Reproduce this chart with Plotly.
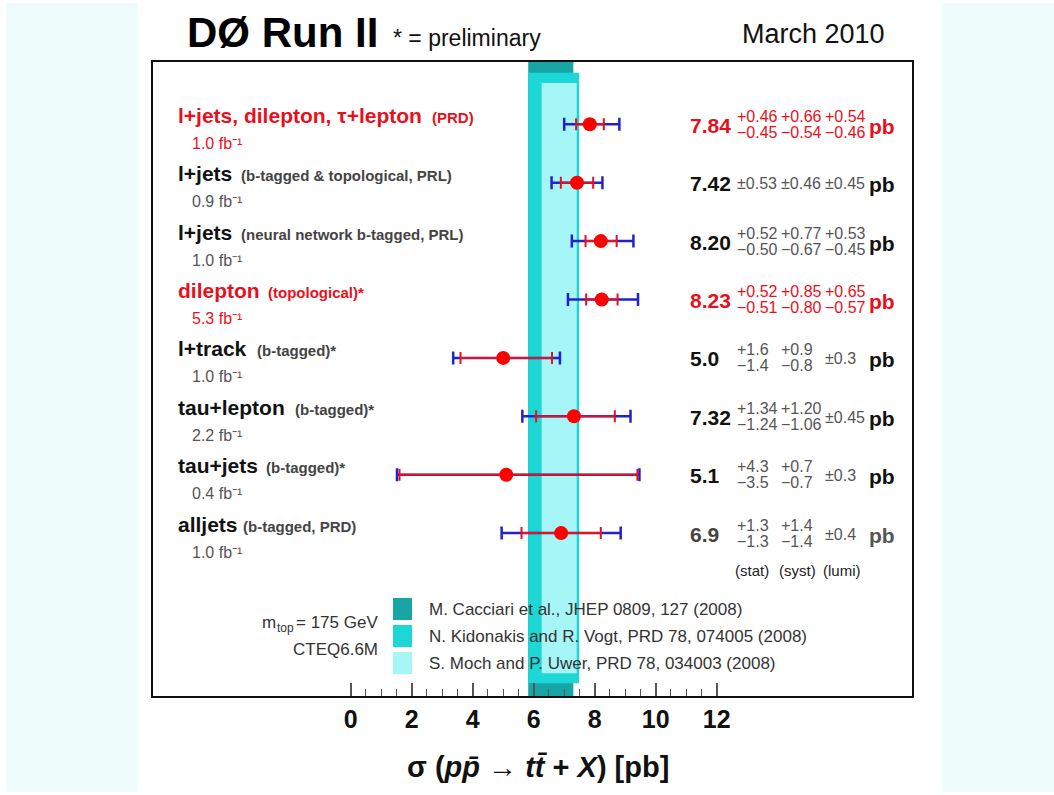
import math
import plotly.graph_objects as go

# ---- measurements -------------------------------------------------------
channels = ["l+jets, dilepton, τ+lepton", "l+jets", "l+jets", "dilepton",
            "l+track", "tau+lepton", "tau+jets", "alljets"]
details = ["(PRD)", "(b-tagged & topological, PRL)", "(neural network b-tagged, PRL)",
           "(topological)*", "(b-tagged)*", "(b-tagged)*", "(b-tagged)*", "(b-tagged, PRD)"]
lumi_fb = ["1.0", "0.9", "1.0", "5.3", "1.0", "2.2", "0.4", "1.0"]

xsec = [7.84, 7.42, 8.20, 8.23, 5.0, 7.32, 5.1, 6.9]
decimals = [2, 2, 2, 2, 1, 2, 1, 1]
stat_up = [0.46, 0.53, 0.52, 0.52, 1.6, 1.34, 4.3, 1.3]
stat_dn = [0.45, 0.53, 0.50, 0.51, 1.4, 1.24, 3.5, 1.3]
syst_up = [0.66, 0.46, 0.77, 0.85, 0.9, 1.20, 0.7, 1.4]
syst_dn = [0.54, 0.46, 0.67, 0.80, 0.8, 1.06, 0.7, 1.4]
lumi_up = [0.54, 0.45, 0.53, 0.65, 0.3, 0.45, 0.3, 0.4]
lumi_dn = [0.46, 0.45, 0.45, 0.57, 0.3, 0.45, 0.3, 0.4]
# how the uncertainties are printed: three stacked columns, one inline row,
# or stacked stat/syst with a symmetric lumi term
unc_style = ["stack3", "inline", "stack3", "stack3", "stack2", "stack2", "stack2", "stack2"]
highlight = [True, False, False, True, False, False, False, False]

# ---- theory predictions (m_top = 175 GeV, CTEQ6.6M) ---------------------
theory_names = ["M. Cacciari et al., JHEP 0809, 127 (2008)",
                "N. Kidonakis and R. Vogt, PRD 78, 074005 (2008)",
                "S. Moch and P. Uwer, PRD 78, 034003 (2008)"]
theory_lo = [5.82, 5.82, 6.26]
theory_hi = [7.30, 7.49, 7.41]
theory_colors = ["#17a5a5", "#1dd6d6", "#a6f5f7"]
theory_yspan = [(0.0, 1.0), (0.02, 0.983), (0.036, 0.967)]

tick_vals = [0, 2, 4, 6, 8, 10, 12]
minor_vals = [v / 2 for v in range(1, 24) if v % 4 != 0]

RED = "#e8101c"
BLUE = "#2222cc"
FONT = "Liberation Sans, Arial, sans-serif"

# ---- page geometry (pixels) ---------------------------------------------
W, H = 1054, 795
PL, PR, PT, PB = 153, 912, 62, 696
label_x = 176
detail_x = [430, 239, 239, 266, 255, 293, 264, 241]


def pxx(x):
    return (x - PL) / (PR - PL)


def pxy(y):
    return (PB - y) / (PB - PT)


rows = list(range(len(xsec)))
tot_up = [math.sqrt(a * a + b * b + c * c) for a, b, c in zip(stat_up, syst_up, lumi_up)]
tot_dn = [math.sqrt(a * a + b * b + c * c) for a, b, c in zip(stat_dn, syst_dn, lumi_dn)]

fig = go.Figure()

# total uncertainty (blue), drawn first so the statistical part sits on top
fig.add_trace(go.Scatter(
    x=xsec, y=rows, mode="markers",
    marker=dict(size=2, color="rgba(0,0,0,0)"),
    error_x=dict(type="data", symmetric=False, array=tot_up, arrayminus=tot_dn,
                 color=BLUE, thickness=2.5, width=6.5),
    hoverinfo="skip"))

# statistical uncertainty (red) with the central value
fig.add_trace(go.Scatter(
    x=xsec, y=rows, mode="markers",
    marker=dict(size=14, color="#ff0000"),
    error_x=dict(type="data", symmetric=False, array=stat_up, arrayminus=stat_dn,
                 color=RED, thickness=2, width=6),
    hoverinfo="skip"))

shapes = []
# pale side strips of the page
shapes.append(dict(type="rect", xref="paper", yref="paper", layer="below",
                   x0=pxx(6), x1=pxx(138), y0=pxy(792), y1=pxy(3),
                   fillcolor="#effcfc", line_width=0))
shapes.append(dict(type="rect", xref="paper", yref="paper", layer="below",
                   x0=pxx(942), x1=pxx(1054), y0=pxy(792), y1=pxy(3),
                   fillcolor="#effcfc", line_width=0))

# theory bands
for lo, hi, col, (y0, y1) in zip(theory_lo, theory_hi, theory_colors, theory_yspan):
    shapes.append(dict(type="rect", xref="x", yref="paper", layer="below",
                       x0=lo, x1=hi, y0=y0, y1=y1, fillcolor=col, line_width=0))

# legend squares
legend_y = [609, 636, 663]
for yc, col in zip(legend_y, theory_colors):
    shapes.append(dict(type="rect", xref="paper", yref="paper", layer="above",
                       x0=pxx(393), x1=pxx(412), y0=pxy(yc + 11), y1=pxy(yc - 11),
                       fillcolor=col, line_width=0))

ann = []


def text_px(x, y, s, size, color="#111", xanchor="left", bold=False):
    if bold:
        s = "<b>" + s + "</b>"
    ann.append(dict(xref="paper", yref="paper", x=pxx(x), y=pxy(y), text=s,
                    showarrow=False, xanchor=xanchor, yanchor="middle",
                    font=dict(family=FONT, size=size, color=color)))


def text_row(x, row, shift, s, size, color="#111", xanchor="left"):
    ann.append(dict(xref="paper", yref="y", x=pxx(x), y=row, yshift=shift, text=s,
                    showarrow=False, xanchor=xanchor, yanchor="middle",
                    font=dict(family=FONT, size=size, color=color)))


# header
text_px(185, 32, "DØ Run II", 42, "#000", bold=True)
text_px(391, 38, "* = preliminary", 23, "#111")
text_px(740, 34, "March 2010", 27, "#111")

# channel labels
for i in rows:
    main_c = RED if highlight[i] else "#111"
    det_c = RED if highlight[i] else "#444"
    sub_c = RED if highlight[i] else "#555"
    text_row(label_x, i, 9, f"<b>{channels[i]}</b>", 21, main_c)
    text_row(detail_x[i], i, 7, f"<b>{details[i]}</b>", 15, det_c)
    text_row(190, i, -19, f"{lumi_fb[i]} fb⁻¹", 16, sub_c)

# printed results
cols_x = [735, 779, 823]
for i in rows:
    d = decimals[i]
    val_c = RED if highlight[i] else ("#444" if i == 7 else "#111")
    pb_c = RED if highlight[i] else ("#555" if i == 7 else "#111")
    unc_c = RED if highlight[i] else "#555"
    text_row(688, i, -1, f"<b>{xsec[i]:.{d}f}</b>", 21, val_c)
    text_row(867, i, -2, "<b>pb</b>", 21, pb_c)
    ups = [stat_up[i], syst_up[i], lumi_up[i]]
    dns = [stat_dn[i], syst_dn[i], lumi_dn[i]]
    for k, cx in enumerate(cols_x):
        stacked = unc_style[i] == "stack3" or (unc_style[i] == "stack2" and k < 2)
        if stacked:
            text_row(cx, i, 8, f"+{ups[k]:.{d}f}", 16, unc_c)
            text_row(cx, i, -8, f"−{dns[k]:.{d}f}", 16, unc_c)
        else:
            text_row(cx, i, -1, f"±{ups[k]:.{d}f}", 16, unc_c)

for cx, s in zip(cols_x, ["(stat)", "(syst)", "(lumi)"]):
    text_px(cx - 2, 570, s, 15, "#222")

# legend text
for yc, name in zip(legend_y, theory_names):
    text_px(427, yc, name, 17, "#333")
text_px(380, 622, "= 175 GeV", 17, "#333", xanchor="right")
text_px(296, 628, "top", 12, "#333", xanchor="right")
text_px(278, 622, "m", 17, "#333", xanchor="right")
text_px(380, 649, "CTEQ6.6M", 17, "#333", xanchor="right")

# axis title
text_px(538, 767,
        "σ (<i>p</i><i>p\u0304</i> → <i>t</i><i>t\u0304</i> + <i>X</i>) [pb]",
        29, "#111", xanchor="center", bold=True)

x_lo = (PL - 350.7) / 30.5
x_hi = (PR - 350.7) / 30.5
y_top = (PT - 124.3) / 58.4
y_bot = (PB - 124.3) / 58.4

fig.update_layout(
    width=W, height=H,
    margin=dict(l=PL, r=W - PR, t=PT, b=H - PB, pad=0),
    paper_bgcolor="white", plot_bgcolor="rgba(0,0,0,0)",
    showlegend=False,
    shapes=shapes, annotations=ann,
    xaxis=dict(range=[x_lo, x_hi], tickvals=tick_vals,
               ticktext=[f"<b>{v}</b>" for v in tick_vals],
               tickfont=dict(family=FONT, size=25, color="#111"),
               ticks="inside", ticklen=13, tickwidth=1.5, tickcolor="#555",
               minor=dict(tickvals=minor_vals, ticks="inside", ticklen=7,
                          tickwidth=1.2, tickcolor="#555"),
               showline=True, linecolor="#111", linewidth=2, mirror=True,
               showgrid=False, zeroline=False, fixedrange=True),
    yaxis=dict(range=[y_bot, y_top], showticklabels=False, ticks="",
               showline=True, linecolor="#111", linewidth=2, mirror=True,
               showgrid=False, zeroline=False, fixedrange=True),
)

fig.write_html("out.html")
